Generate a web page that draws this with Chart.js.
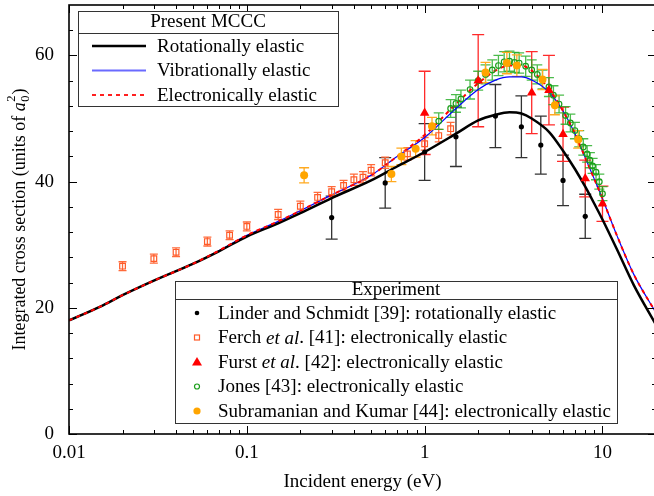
<!DOCTYPE html>
<html><head><meta charset="utf-8">
<script src="https://cdn.jsdelivr.net/npm/chart.js@4/dist/chart.umd.min.js"></script>
<style>html,body{margin:0;padding:0;overflow:hidden;background:#fff;width:654px;height:496px}canvas{display:block}</style>
</head><body>
<canvas id="c" width="660" height="496" style="width:660px;height:496px"></canvas>
<script>
// ---------- data ----------
const X_TICKS = [0.01, 0.1, 1, 10];
const Y_TICKS = [0, 20, 40, 60];

const THEORY_E = [0.01,0.015,0.02,0.03,0.05,0.07,0.1,0.15,0.2,0.3,0.5,0.7,1,1.5,2,2.5,3,3.5,4,5,6,7,8,9,10,12,15,20];
const ROT  = [18.0,20.2,22.0,24.3,27.0,29.0,31.3,33.4,35.0,37.4,40.2,42.4,44.7,47.6,49.7,50.6,51.0,50.8,50.0,47.9,44.9,42.0,39.2,36.5,34.0,29.4,23.6,17.3];
const VIB  = [18.0,20.2,22.0,24.3,27.0,29.1,31.5,33.7,35.4,37.9,41.0,44.0,47.0,51.6,54.6,56.1,56.6,56.6,56.1,54.2,51.2,47.6,43.8,40.4,37.3,31.6,25.3,19.2];
const ELEC = [18.0,20.2,22.0,24.3,27.0,29.1,31.5,33.7,35.4,37.9,41.0,44.0,47.4,52.3,55.6,57.6,58.4,58.4,57.6,54.7,51.2,47.6,43.8,40.4,37.3,31.6,25.3,19.2];

const LINDER_E   = [0.3,0.6,1,1.5,2.5,3.5,4.5,6,8];
const LINDER_V   = [34.3,39.8,44.7,47.1,50.4,48.7,45.8,40.2,34.5];
const LINDER_ERR = [3.4,4.0,4.5,4.7,5.0,4.9,4.6,4.0,3.5];

const FERCH_E   = [0.02,0.03,0.04,0.06,0.08,0.1,0.15,0.2,0.25,0.3,0.35,0.4,0.45,0.5,0.6,0.8,1.0,1.2,1.4];
const FERCH_V   = [26.6,27.8,28.8,30.5,31.5,32.9,34.8,36.1,37.5,38.4,39.4,40.3,40.7,41.8,43.0,44.4,46.0,47.3,48.4];
const FERCH_ERR = [0.7,0.7,0.7,0.7,0.7,0.7,0.8,0.8,0.8,0.8,0.8,0.9,0.9,0.9,0.9,1.0,1.0,1.0,1.0];

const FURST_E   = [1,2,4,5,6,8,10];
const FURST_V   = [50.9,56.0,54.1,54.5,47.5,40.5,36.5];
const FURST_ERR = [6.6,7.3,6.5,5.5,4.3,2.9,2.8];

const JONES_E   = [1.2,1.4,1.5,1.6,1.8,2.0,2.2,2.4,2.6,2.8,3.0,3.2,3.4,3.7,4.0,4.3,4.6,5.0,5.3,5.7,6.2,6.6,7.0,7.4,7.8,8.2,8.5,8.8,9.2,9.6,10.0];
const JONES_V   = [49.6,51.6,52.4,53.1,54.6,56.0,57.0,57.7,58.4,59.0,59.1,58.9,58.8,58.3,57.7,57.0,56.2,55.0,53.7,52.3,50.5,49.3,48.1,46.8,45.5,44.4,43.4,42.5,41.5,40.0,38.1];
const JONES_ERR = [1.3,1.4,1.4,1.4,1.5,1.5,1.5,1.6,1.6,1.6,1.6,1.6,1.6,1.6,1.6,1.5,1.5,1.5,1.5,1.4,1.4,1.4,1.3,1.3,1.3,1.3,1.2,1.2,1.2,1.2,1.1];

const SK_E   = [0.21,0.65,0.74,0.89,1.1,2.2,2.9,3.3,4.6,5.4,7.3];
const SK_V   = [41.0,41.2,44.0,45.2,48.8,57.3,58.8,58.4,56.2,52.1,46.7];
const SK_ERR = [1.2,1.2,1.3,1.3,1.4,1.6,1.7,1.7,1.6,1.5,1.4];

const THEORY_LABELS = ['Rotationally elastic','Vibrationally elastic','Electronically elastic'];
const EXP_LABELS = [
  [['Linder and Schmidt [39]: rotationally elastic',false]],
  [['Ferch ',false],['et al',true],['. [41]: electronically elastic',false]],
  [['Furst ',false],['et al',true],['. [42]: electronically elastic',false]],
  [['Jones [43]: electronically elastic',false]],
  [['Subramanian and Kumar [44]: electronically elastic',false]]
];

// ---------- drawing ----------
const FONT = '"Liberation Serif","Times New Roman",serif';
const FS = 19;
const pts = (E,V) => E.map((e,i)=>({x:e,y:V[i]}));

const errorBars = {
  id:'errorBars',
  beforeDatasetsDraw(chart){
    const {ctx, scales:{x,y}} = chart;
    const a = chart.chartArea;
    ctx.save();
    ctx.beginPath();
    ctx.rect(a.left,a.top,a.right-a.left,a.bottom-a.top); ctx.clip();
    chart.data.datasets.forEach(ds=>{
      if(!ds.errors) return;
      ctx.strokeStyle = ds.errColor; ctx.lineWidth = 1.3;
      ds.data.forEach((p,j)=>{
        const px = x.getPixelForValue(p.x);
        const y1 = y.getPixelForValue(p.y-ds.errors[j]);
        const y2 = y.getPixelForValue(p.y+ds.errors[j]);
        const c = ds.cap;
        ctx.beginPath();
        ctx.moveTo(px,y1); ctx.lineTo(px,y2);
        ctx.moveTo(px-c,y1); ctx.lineTo(px+c,y1);
        ctx.moveTo(px-c,y2); ctx.lineTo(px+c,y2);
        ctx.stroke();
      });
    });
    ctx.restore();
  }
};

function drawMarker(ctx, kind, cx, cy){
  ctx.save();
  if(kind===0){ ctx.fillStyle='#000'; ctx.beginPath(); ctx.arc(cx,cy,2.3,0,Math.PI*2); ctx.fill(); }
  if(kind===1){ ctx.strokeStyle='#ff5a28'; ctx.lineWidth=1.2; ctx.strokeRect(cx-2.5,cy-2.5,5,5); }
  if(kind===2){ ctx.fillStyle='#ff0000'; ctx.beginPath(); ctx.moveTo(cx,cy-5); ctx.lineTo(cx+5,cy+3.5); ctx.lineTo(cx-5,cy+3.5); ctx.closePath(); ctx.fill(); }
  if(kind===3){ ctx.strokeStyle='#1a9e1a'; ctx.lineWidth=1.2; ctx.beginPath(); ctx.arc(cx,cy,2.5,0,Math.PI*2); ctx.stroke(); }
  if(kind===4){ ctx.fillStyle='#ffa500'; ctx.beginPath(); ctx.arc(cx,cy,3.6,0,Math.PI*2); ctx.fill(); }
  ctx.restore();
}

const decor = {
  id:'decor',
  afterDraw(chart){
    const {ctx, chartArea:a, scales:{x,y}} = chart;
    ctx.save();
    ctx.strokeStyle='#000'; ctx.lineWidth=1;
    const line=(x1,y1,x2,y2)=>{ctx.beginPath();ctx.moveTo(x1,y1);ctx.lineTo(x2,y2);ctx.stroke();};
    for(let d=-2; d<=1; d++){
      for(let m=1; m<=9; m++){
        const v = m*Math.pow(10,d);
        if(v>=x.max) continue;
        const px = Math.round(x.getPixelForValue(v))+0.5;
        const L = m===1?8:4;
        line(px,a.bottom,px,a.bottom-L); line(px,a.top,px,a.top+L);
      }
    }
    for(let v=0; v<y.max; v+=4){
      const py = Math.round(y.getPixelForValue(v))+0.5;
      const L = v%20===0?8:4;
      line(a.left,py,a.left+L,py); line(a.right,py,a.right-L,py);
    }
    ctx.lineWidth=1.6;
    ctx.strokeRect(a.left,a.top,a.right-a.left,a.bottom-a.top);

    // y title
    ctx.fillStyle='#000';
    ctx.save();
    ctx.translate(19,(a.top+a.bottom)/2); ctx.rotate(-Math.PI/2);
    ctx.textBaseline='alphabetic'; ctx.textAlign='left';
    const main='Integrated cross section (units of ';
    const TF=18, SF=12.5;
    ctx.font=TF+'px '+FONT; const w1=ctx.measureText(main).width; const wp=ctx.measureText(')').width;
    ctx.font='italic '+TF+'px '+FONT; const wa=ctx.measureText('a').width;
    ctx.font=SF+'px '+FONT; const ws=ctx.measureText('0').width;
    let sx=-(w1+wa+ws+1.5+wp)/2; const by=6;
    ctx.font=TF+'px '+FONT; ctx.fillText(main,sx,by); sx+=w1;
    ctx.font='italic '+TF+'px '+FONT; ctx.fillText('a',sx,by); sx+=wa;
    ctx.font=SF+'px '+FONT; ctx.fillText('0',sx+0.5,by+4); ctx.fillText('2',sx+0.5,by-10); sx+=ws+1.5;
    ctx.font=TF+'px '+FONT; ctx.fillText(')',sx,by);
    ctx.restore();

    // x title
    ctx.font=FS+'px '+FONT; ctx.textAlign='center'; ctx.textBaseline='middle';
    ctx.fillText('Incident energy (eV)', (a.left+a.right)/2, 482);

    // legend 1
    ctx.lineWidth=1; ctx.strokeStyle='#333';
    ctx.fillStyle='#fff'; ctx.fillRect(78,11,260,95);
    ctx.strokeRect(78.5,11.5,260,95);
    line(78.5,33.5,338.5,33.5);
    ctx.fillStyle='#000'; ctx.textAlign='center';
    ctx.fillText('Present MCCC',208,22.5);
    const rows1=[46,70.5,95];
    const sty=[['#000',2.5,[]],['#6a6aff',2,[]],['#ff2020',2,[4,4]]];
    ctx.textAlign='left';
    rows1.forEach((ry,i)=>{
      ctx.save(); ctx.strokeStyle=sty[i][0]; ctx.lineWidth=sty[i][1]; ctx.setLineDash(sty[i][2]);
      line(92,ry,146,ry); ctx.restore();
      ctx.fillText(THEORY_LABELS[i],157,ry+1);
    });

    // legend 2
    ctx.strokeStyle='#333'; ctx.lineWidth=1;
    ctx.fillStyle='#fff'; ctx.fillRect(175,281,442,142);
    ctx.strokeRect(175.5,281.5,442,142);
    line(175.5,299.5,617.5,299.5);
    ctx.fillStyle='#000'; ctx.textAlign='center';
    ctx.fillText('Experiment',396,290.5);
    ctx.textAlign='left';
    const rows2=[313,337.5,362,386.5,411];
    rows2.forEach((ry,i)=>{
      drawMarker(ctx,i,197,ry);
      let tx=218;
      EXP_LABELS[i].forEach(([t,it])=>{
        ctx.font=(it?'italic ':'')+FS+'px '+FONT;
        ctx.fillStyle='#000';
        ctx.fillText(t,tx,ry+1);
        tx+=ctx.measureText(t).width;
      });
    });
    ctx.restore();
  }
};

const lineDs = (label,V,color,w,dash,order)=>({
  label, data:pts(THEORY_E,V), showLine:true, borderColor:color, borderWidth:w,
  borderDash:dash, pointRadius:0, fill:false, tension:0.4, cubicInterpolationMode:'monotone', order
});

new Chart(document.getElementById('c'),{
  type:'scatter',
  data:{datasets:[
    lineDs('Rotationally elastic',ROT,'#000',2.5,[],10),
    lineDs('Vibrationally elastic',VIB,'#0000ff',1.2,[],11),
    lineDs('Electronically elastic',ELEC,'#ff0000',2,[4,4],9),
    {label:'Linder', data:pts(LINDER_E,LINDER_V), errors:LINDER_ERR, errColor:'#333', cap:6,
      pointStyle:'circle', pointRadius:2.6, backgroundColor:'#000', borderColor:'#000', borderWidth:0, order:1},
    {label:'Ferch', data:pts(FERCH_E,FERCH_V), errors:FERCH_ERR, errColor:'#ff6a3a', cap:4,
      pointStyle:'rect', pointRadius:4, backgroundColor:'rgba(0,0,0,0)', borderColor:'#ff5a28', borderWidth:1.2, order:5},
    {label:'Furst', data:pts(FURST_E,FURST_V), errors:FURST_ERR, errColor:'#ff2a2a', cap:6,
      pointStyle:'triangle', pointRadius:5.5, backgroundColor:'#ff0000', borderColor:'#ff0000', borderWidth:0, order:2},
    {label:'Jones', data:pts(JONES_E,JONES_V), errors:JONES_ERR, errColor:'rgba(30,170,30,0.8)', cap:5,
      pointStyle:'circle', pointRadius:2.8, backgroundColor:'rgba(0,0,0,0)', borderColor:'#1a9e1a', borderWidth:1.2, order:4},
    {label:'Subramanian', data:pts(SK_E,SK_V), errors:SK_ERR, errColor:'#ffaa20', cap:5,
      pointStyle:'circle', pointRadius:4, backgroundColor:'#ffa500', borderColor:'#ffa500', borderWidth:0, order:3}
  ]},
  options:{
    responsive:false, animation:false, devicePixelRatio:1,
    layout:{autoPadding:false, padding:{top:5,right:4,left:0,bottom:0}},
    plugins:{legend:{display:false}, tooltip:{enabled:false}},
    scales:{
      x:{type:'logarithmic', min:0.01, max:20,
        grid:{display:false, drawTicks:false}, border:{display:false},
        ticks:{font:{family:FONT,size:FS}, color:'#000', padding:8, autoSkip:false, maxRotation:0, callback:v=>String(v)},
        afterBuildTicks:s=>{s.ticks=X_TICKS.map(v=>({value:v}));},
        afterFit:s=>{s.height=62; s.paddingLeft=0; s.paddingRight=0;}},
      y:{type:'linear', min:0, max:68,
        grid:{display:false, drawTicks:false}, border:{display:false},
        ticks:{font:{family:FONT,size:FS}, color:'#000', padding:15, callback:v=>String(v)},
        afterBuildTicks:s=>{s.ticks=Y_TICKS.map(v=>({value:v}));},
        afterFit:s=>{s.width=69; s.paddingTop=0; s.paddingBottom=0;}}
    }
  },
  plugins:[errorBars, decor]
});
</script>
</body></html>
